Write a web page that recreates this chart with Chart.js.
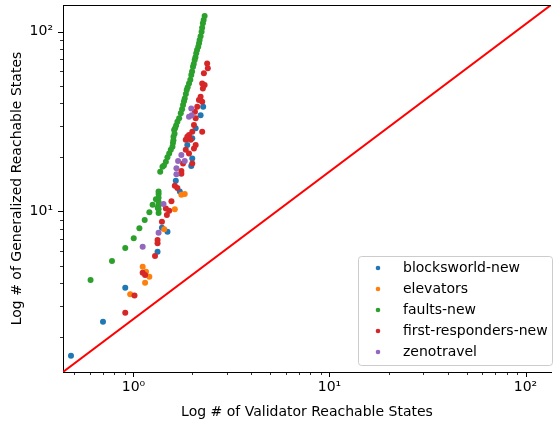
<!DOCTYPE html>
<html>
<head>
<meta charset="utf-8">
<script src="https://cdn.jsdelivr.net/npm/chart.js@4.4.0/dist/chart.umd.min.js"></script>
<style>
  body { margin: 0; background: #fff; }
  #wrap { width: 555px; height: 421px; }
</style>
</head>
<body>
<div id="wrap"><canvas id="chart" width="555" height="421"></canvas></div>
<script>
// series names / colours (matplotlib tab10)
const seriesNames = ['blocksworld-new', 'elevators', 'faults-new', 'first-responders-new', 'zenotravel'];
const seriesColors = ['#1f77b4', '#ff7f0e', '#2ca02c', '#d62728', '#9467bd'];

// [validator states, generalized states]
const blocksPts = [[2.268, 38.2], [2.200, 34.3], [2.076, 29.0], [1.995, 25.5], [1.882, 23.4], [1.995, 19.7],
  [1.972, 17.9], [1.644, 14.8], [1.723, 12.9], [1.397, 8.13], [1.491, 7.72], [1.327, 5.98], [0.908, 3.77],
  [0.699, 2.44], [0.480, 1.58]];
const elevatorsPts = [[1.755, 12.4], [1.826, 12.5], [1.625, 10.3], [1.435, 7.96], [1.114, 4.93], [1.159, 4.63],
  [1.205, 4.34], [1.146, 4.02], [0.962, 3.47]];
const faultsPts = [[0.604, 4.16], [0.777, 5.31], [0.908, 6.27], [1.003, 7.10], [1.072, 8.07], [1.141, 8.97],
  [1.205, 9.9], [1.252, 10.9], [1.302, 11.7], [1.33, 10.5], [1.343, 9.8], [1.343, 10.3], [1.343, 10.8],
  [1.343, 11.3], [1.343, 11.9], [1.343, 12.5], [1.343, 12.9], [1.369, 16.6], [1.406, 17.7], [1.43, 18.0],
  [1.463, 18.9], [1.49, 20.0], [1.521, 21.0], [1.55, 22.0], [1.581, 22.9], [1.59, 24.0], [1.599, 24.9],
  [1.60, 26.0], [1.62, 27.0], [1.612, 28.4], [1.631, 29.0], [1.65, 30.0], [1.675, 31.5], [1.71, 33.0],
  [1.743, 35.1], [1.77, 37.0], [1.790, 39.1], [1.81, 41.0], [1.826, 42.5], [1.85, 45.0], [1.869, 47.3],
  [1.89, 49.0], [1.920, 51.5], [1.95, 54.0], [1.972, 57.3], [1.99, 60.0], [2.012, 63.7], [2.03, 66.0],
  [2.052, 69.5], [2.07, 72.0], [2.090, 75.7], [2.11, 79.0], [2.140, 82.3], [2.16, 86.0], [2.175, 89.8],
  [2.20, 94.0], [2.226, 99.7], [2.24, 105], [2.26, 111], [2.28, 116], [2.306, 121.9]];
const respondersPts = [[2.376, 66.5], [2.395, 62.5], [2.287, 58.6], [2.242, 51.5], [2.306, 50.4], [2.260, 48.3],
  [2.200, 43.4], [2.157, 41.6], [2.242, 40.7], [2.115, 38.2], [2.059, 35.8], [2.076, 33.0], [2.035, 30.2],
  [2.242, 27.7], [1.995, 27.7], [1.920, 26.6], [1.882, 26.0], [1.958, 25.0], [1.848, 25.0], [2.076, 23.4],
  [2.035, 22.4], [1.848, 22.0], [1.920, 21.0], [1.790, 18.5], [1.995, 18.5], [1.755, 16.8], [1.755, 16.2],
  [1.625, 13.9], [1.675, 13.5], [1.562, 11.4], [1.463, 10.4], [1.521, 10.1], [1.480, 9.57], [1.397, 8.78],
  [1.327, 6.95], [1.327, 6.66], [1.288, 5.66], [1.114, 4.57], [1.146, 4.44], [1.012, 3.41], [0.908, 2.74]];
const zenoPts = [[1.972, 37.4], [1.920, 33.6], [1.981, 34.3], [1.755, 20.6], [1.689, 19.1], [1.826, 19.1],
  [1.656, 17.4], [1.656, 16.1], [1.423, 11.0], [1.343, 7.62], [1.114, 6.37]];

const seriesPts = [blocksPts, elevatorsPts, faultsPts, respondersPts, zenoPts];

// axis limits (the red line runs corner to corner)
const xMin = 0.437, xMax = 134.9;
const yMin = 1.282, yMax = 140.4;

Chart.defaults.font.family = 'DejaVu Sans';
Chart.defaults.font.size = 14;
Chart.defaults.color = '#000';

const sup = { '-1': '⁻¹', '0': '⁰', '1': '¹', '2': '²', '3': '³' };
function powLabel(v) {
    const e = Math.log10(v);
    if (Math.abs(e - Math.round(e)) < 1e-6) return '10' + sup[Math.round(e)];
    return '';
}

const datasets = seriesNames.map((name, i) => ({
    label: name,
    data: seriesPts[i].map(p => ({ x: p[0], y: p[1] })),
    backgroundColor: seriesColors[i],
    borderWidth: 0,
    pointRadius: 3,
    order: 5 - i   // later series on top, like matplotlib
}));
datasets.push({
    type: 'line',
    label: 'diag',
    data: [{ x: xMin, y: yMin }, { x: xMax, y: yMax }],
    borderColor: '#ff0000',
    borderWidth: 2,
    pointRadius: 0,
    showLine: true,
    order: 6
});

function noPad(s) {
    s.paddingTop = 0; s.paddingBottom = 0; s.paddingLeft = 0; s.paddingRight = 0;
}

// top spine, log tick marks and the legend box
const extras = {
    id: 'extras',
    afterDraw(chart) {
        const { ctx, chartArea: a, scales: { x, y } } = chart;
        ctx.save();
        ctx.strokeStyle = '#000';
        ctx.lineWidth = 1;
        ctx.beginPath();
        ctx.moveTo(a.left, a.top + 0.5);
        ctx.lineTo(a.right, a.top + 0.5);
        ctx.stroke();

        for (let e = -1; e <= 2; e++) {
            for (let m = 1; m <= 9; m++) {
                const v = m * Math.pow(10, e);
                const len = m === 1 ? 5 : 3;
                ctx.lineWidth = m === 1 ? 1 : 0.8;
                if (v >= x.min && v <= x.max) {
                    const px = Math.round(x.getPixelForValue(v)) + 0.5;
                    ctx.beginPath();
                    ctx.moveTo(px, a.bottom);
                    ctx.lineTo(px, a.bottom + len);
                    ctx.stroke();
                }
                if (v >= y.min && v <= y.max) {
                    const py = Math.round(y.getPixelForValue(v)) + 0.5;
                    ctx.beginPath();
                    ctx.moveTo(a.left, py);
                    ctx.lineTo(a.left - len, py);
                    ctx.stroke();
                }
            }
        }

        // legend
        const bx = 358.5, by = 256.5, bw = 194, bh = 109;
        ctx.beginPath();
        ctx.roundRect(bx, by, bw, bh, 3);
        ctx.fillStyle = 'rgba(255,255,255,0.8)';
        ctx.fill();
        ctx.strokeStyle = '#cccccc';
        ctx.lineWidth = 1;
        ctx.stroke();
        ctx.font = '14px "DejaVu Sans"';
        ctx.textBaseline = 'middle';
        ctx.textAlign = 'left';
        seriesNames.forEach((name, i) => {
            const ry = 268 + i * 21;
            ctx.beginPath();
            ctx.arc(378, ry, 2.3, 0, Math.PI * 2);
            ctx.fillStyle = seriesColors[i];
            ctx.fill();
            ctx.fillStyle = '#000';
            ctx.fillText(name, 403, ry);
        });
        ctx.restore();
    }
};

new Chart(document.getElementById('chart'), {
    type: 'scatter',
    data: { datasets },
    options: {
        responsive: false,
        animation: false,
        layout: { padding: { top: 5, right: 0, bottom: 0, left: 0 } },
        plugins: { legend: { display: false }, tooltip: { enabled: false } },
        scales: {
            x: {
                type: 'logarithmic',
                min: xMin,
                max: xMax,
                grid: { display: false, drawTicks: false },
                border: { display: true, color: '#000', width: 1 },
                ticks: { autoSkip: false, maxRotation: 0, padding: 7, callback: powLabel },
                title: { display: true, text: 'Log # of Validator Reachable States', padding: { top: 0, bottom: 0 } },
                afterFit: s => { s.height = 49; noPad(s); }
            },
            y: {
                type: 'logarithmic',
                min: yMin,
                max: yMax,
                grid: { display: false, drawTicks: false },
                border: { display: true, color: '#000', width: 1 },
                ticks: { autoSkip: false, padding: 10, callback: powLabel },
                title: { display: true, text: 'Log # of Generalized Reachable States', padding: { top: 9, bottom: 0 } },
                afterFit: s => { s.width = 63; noPad(s); }
            }
        }
    },
    plugins: [extras]
});
</script>
</body>
</html>
